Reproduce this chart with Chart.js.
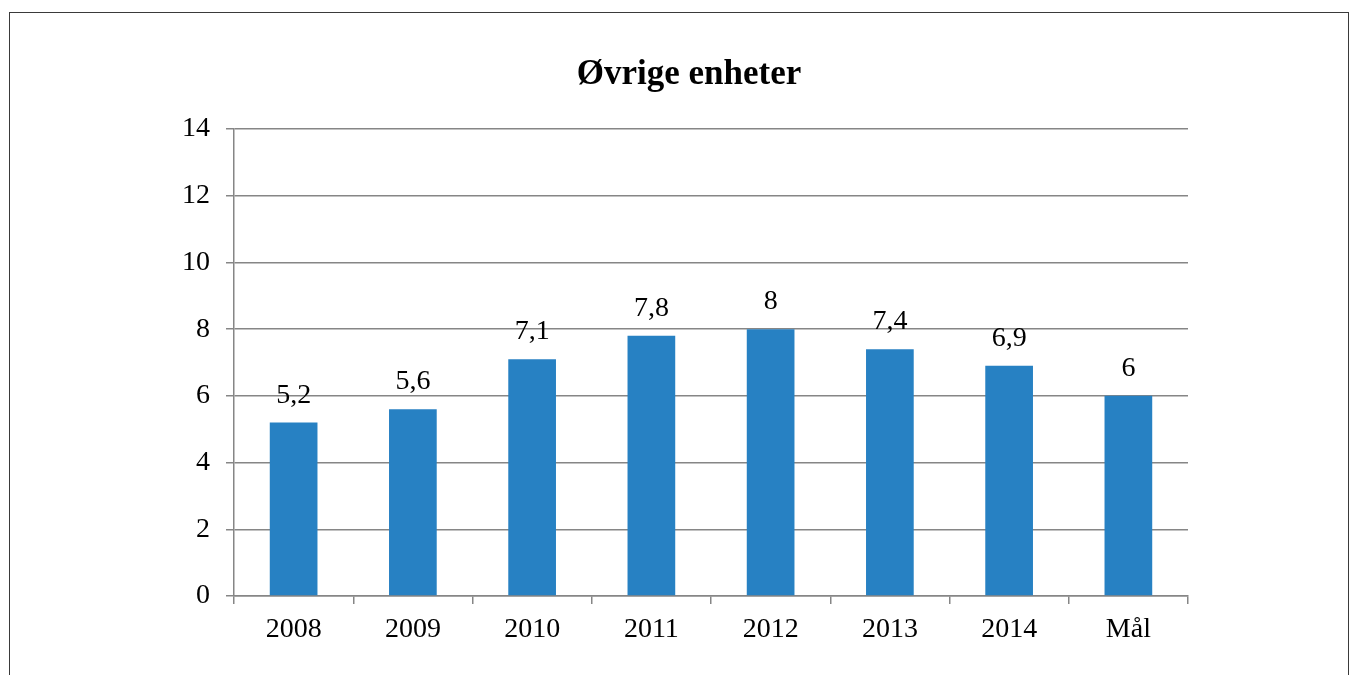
<!DOCTYPE html>
<html>
<head>
<meta charset="utf-8">
<script src="https://cdn.jsdelivr.net/npm/chart.js@4/dist/chart.umd.min.js"></script>
<style>
html,body{margin:0;padding:0;background:#fff;}
#wrap{position:absolute;left:0;top:0;width:1360px;height:675px;}
</style>
</head>
<body>
<div id="wrap"><canvas id="c" width="1360" height="675"></canvas></div>
<script>
const categories = ["2008","2009","2010","2011","2012","2013","2014","Mål"];
const values = [5.2, 5.6, 7.1, 7.8, 8, 7.4, 6.9, 6];
const valueLabels = ["5,2","5,6","7,1","7,8","8","7,4","6,9","6"];
const titleText = "Øvrige enheter";

const FONT = "'Liberation Serif', 'Times New Roman', serif";

const framePlugin = {
  id: 'frame',
  beforeDraw(chart) {
    const ctx = chart.ctx;
    ctx.save();
    ctx.fillStyle = '#fff';
    ctx.fillRect(0, 0, chart.width, chart.height);
    ctx.strokeStyle = '#3a3a3a';
    ctx.lineWidth = 1;
    ctx.strokeRect(9.5, 12.5, 1339, 700);
    ctx.restore();
  },
  afterDraw(chart) {
    const ctx = chart.ctx;
    ctx.save();
    ctx.font = "bold 35px " + FONT;
    ctx.fillStyle = '#000';
    ctx.textAlign = 'center';
    ctx.textBaseline = 'alphabetic';
    ctx.fillText(titleText, 689, 84);
    ctx.restore();
  }
};

const labelPlugin = {
  id: 'valueLabels',
  afterDatasetsDraw(chart) {
    const ctx = chart.ctx;
    const meta = chart.getDatasetMeta(0);
    ctx.save();
    ctx.font = "28px " + FONT;
    ctx.fillStyle = '#000';
    ctx.textAlign = 'center';
    ctx.textBaseline = 'alphabetic';
    meta.data.forEach((bar, i) => {
      ctx.fillText(valueLabels[i], bar.x, bar.y - 20);
    });
    ctx.restore();
  }
};

new Chart(document.getElementById('c'), {
  type: 'bar',
  data: {
    labels: categories,
    datasets: [{
      data: values,
      backgroundColor: '#2781C3',
      borderWidth: 0,
      barPercentage: 0.4,
      categoryPercentage: 1.0
    }]
  },
  options: {
    responsive: false,
    animation: false,
    devicePixelRatio: 1,
    layout: { padding: { left: 0, right: 172, top: 129, bottom: 0 } },
    plugins: {
      legend: { display: false },
      tooltip: { enabled: false },
      title: { display: false }
    },
    scales: {
      x: {
        grid: {
          offset: true,
          drawOnChartArea: false,
          drawTicks: true,
          tickLength: 8,
          color: '#868686',
          lineWidth: 1.5
        },
        border: { color: '#868686', width: 1.5 },
        ticks: {
          color: '#000',
          font: { family: FONT, size: 28 },
          padding: 9,
          maxRotation: 0
        },
        afterFit(scale) { scale.height = 79; }
      },
      y: {
        min: 0,
        max: 14,
        ticks: {
          stepSize: 2,
          color: '#000',
          font: { family: FONT, size: 28 },
          padding: 16
        },
        grid: {
          color: '#868686',
          lineWidth: 1.5,
          tickLength: 8,
          drawTicks: true
        },
        border: { color: '#868686', width: 1.5 },
        afterFit(scale) { scale.width = 234; }
      }
    }
  },
  plugins: [framePlugin, labelPlugin]
});
</script>
</body>
</html>
